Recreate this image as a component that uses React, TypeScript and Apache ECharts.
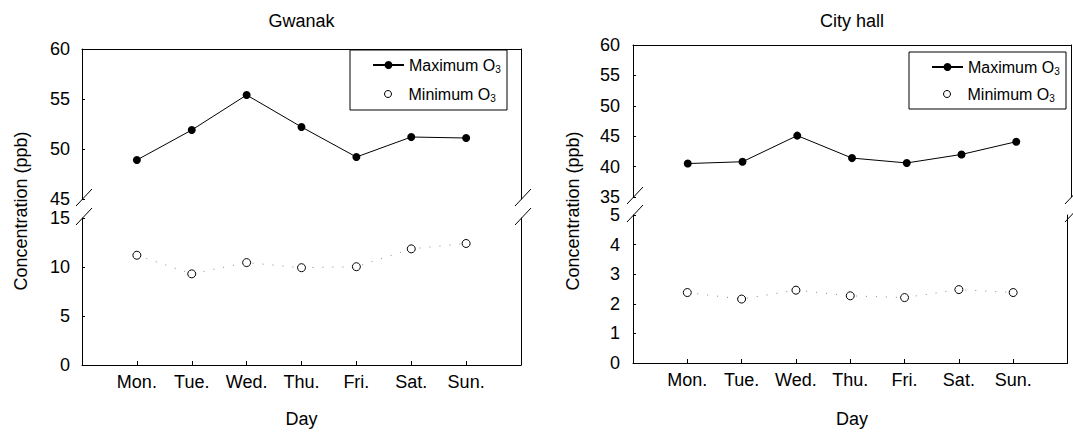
import React, { useEffect, useRef } from "react";
import * as echarts from "echarts";

const days = ["Mon.", "Tue.", "Wed.", "Thu.", "Fri.", "Sat.", "Sun."];
const axisCats = ["", ...days, " "];

const gwanakMax = [48.9, 51.9, 55.4, 52.2, 49.2, 51.2, 51.1];
const gwanakMin = [11.2, 9.3, 10.45, 9.93, 10.03, 11.85, 12.4];
const cityMax = [40.5, 40.8, 45.1, 41.4, 40.6, 42.0, 44.1];
const cityMin = [2.38, 2.16, 2.46, 2.27, 2.21, 2.48, 2.38];

const gwanakTopTicks = { min: 45, max: 60, interval: 5 };
const gwanakBotTicks = { min: 0, max: 15, interval: 5 };
const cityTopTicks = { min: 35, max: 60, interval: 5 };
const cityBotTicks = { min: 0, max: 5, interval: 1 };

const MAX_NAME = "Maximum O3";
const MIN_NAME = "Minimum O3";

const FONT = "'Liberation Sans', Arial, Helvetica, sans-serif";
const FS = 18;

// layout (pixels)
const panels = [
  { left: 82, right: 521, top: 49, brkTop: 199, brkBot: 218, bottom: 365, box: [350, 50, 157, 60], row1: 66, row2: 95, yMargin: 12, nameX: 21 },
  { left: 633, right: 1071, top: 45, brkTop: 197, brkBot: 215, bottom: 363, box: [909, 52, 157, 57], row1: 68, row2: 95, yMargin: 13, nameX: 573 },
];

export default function App() {
  const ref = useRef<HTMLDivElement>(null);
  useEffect(() => {
    if (!ref.current) return;
    const chart = echarts.init(ref.current, undefined, { renderer: "svg" });

    const grids: any[] = [];
    const xAxes: any[] = [];
    const yAxes: any[] = [];
    const series: any[] = [];
    const graphics: any[] = [];
    const legends: any[] = [];

    const black = "#000";
    const defs = [
      { title: "Gwanak", max: gwanakMax, min: gwanakMin, top: gwanakTopTicks, bot: gwanakBotTicks },
      { title: "City hall", max: cityMax, min: cityMin, top: cityTopTicks, bot: cityBotTicks },
    ];

    const legendText = {
      color: black, fontFamily: FONT, fontSize: 16,
      rich: {
        t: { fontSize: 16, fontFamily: FONT, color: black },
        s: { fontSize: 10, fontFamily: FONT, color: black, padding: [9, 0, 0, 0] },
      },
    };
    const fmt = (name: string) => `{t|${name.slice(0, -1)}}{s|${name.slice(-1)}}`;

    defs.forEach((d, p) => {
      const L = panels[p];
      const w = L.right - L.left;
      const gTop = grids.length;
      grids.push({ left: L.left, top: L.top, width: w, height: L.brkTop - L.top, containLabel: false });
      const gBot = grids.length;
      grids.push({ left: L.left, top: L.brkBot, width: w, height: L.bottom - L.brkBot, containLabel: false });

      const xTop = xAxes.length;
      xAxes.push({
        type: "category", gridIndex: gTop, data: axisCats, boundaryGap: false, position: "top",
        axisLine: { show: true, lineStyle: { color: black, width: 1 } },
        axisTick: { show: false }, axisLabel: { show: false }, splitLine: { show: false },
      });
      const xBot = xAxes.length;
      xAxes.push({
        type: "category", gridIndex: gBot, data: axisCats, boundaryGap: false, position: "bottom",
        axisLine: { show: true, lineStyle: { color: black, width: 1 } },
        axisTick: { show: true, inside: true, length: 4, lineStyle: { color: black }, interval: (i: number) => i > 0 && i < axisCats.length - 1 },
        axisLabel: { show: true, interval: 0, color: black, fontSize: FS, fontFamily: FONT, margin: 8 },
        splitLine: { show: false },
      });

      const yCommon = {
        axisLine: { show: true, lineStyle: { color: black } },
        axisTick: { show: true, inside: true, length: 3, lineStyle: { color: black } },
        axisLabel: { color: black, fontSize: FS, fontFamily: FONT, margin: L.yMargin },
        splitLine: { show: false },
      };
      const yRight = {
        axisLine: { show: true, lineStyle: { color: black } },
        axisTick: { show: false }, axisLabel: { show: false }, splitLine: { show: false },
      };
      const yTop = yAxes.length;
      yAxes.push({ type: "value", gridIndex: gTop, position: "left", ...d.top, ...yCommon });
      yAxes.push({ type: "value", gridIndex: gTop, position: "right", ...d.top, ...yRight });
      const yBot = yAxes.length;
      yAxes.push({ type: "value", gridIndex: gBot, position: "left", ...d.bot, ...yCommon });
      yAxes.push({ type: "value", gridIndex: gBot, position: "right", ...d.bot, ...yRight });

      series.push({
        name: MAX_NAME, type: "line", xAxisIndex: xTop, yAxisIndex: yTop,
        data: days.map((day, i) => [day, d.max[i]]),
        symbol: "circle", symbolSize: 8,
        itemStyle: { color: black },
        lineStyle: { color: black, width: 1 },
      });
      series.push({
        name: "min-trend", type: "line", xAxisIndex: xBot, yAxisIndex: yBot,
        data: days.map((day, i) => [day, d.min[i]]),
        symbol: "none", silent: true,
        lineStyle: { color: "#888", width: 1, type: [1, 9] },
      });
      series.push({
        name: MIN_NAME, type: "scatter", xAxisIndex: xBot, yAxisIndex: yBot,
        data: days.map((day, i) => [day, d.min[i]]),
        symbol: "circle", symbolSize: 8,
        itemStyle: { color: "#fff", borderColor: black, borderWidth: 1, opacity: 1 },
        z: 5,
      });

      const [bx, by, bw, bh] = L.box;
      graphics.push({
        type: "rect", shape: { x: bx, y: by, width: bw, height: bh },
        style: { fill: "#fff", stroke: black, lineWidth: 1 }, z: 1,
      });
      legends.push({
        data: [MAX_NAME], orient: "vertical", left: bx + 22, top: L.row1 - 9, padding: 0,
        itemWidth: 31, itemHeight: 10, selectedMode: false, formatter: fmt, textStyle: legendText,
      });
      legends.push({
        data: [{ name: MIN_NAME, itemStyle: { color: "#fff", borderColor: black, borderWidth: 1 } }],
        orient: "vertical", left: bx + 34, top: L.row2 - 9, padding: 0,
        itemWidth: 31, itemHeight: 7, selectedMode: false, formatter: fmt, textStyle: legendText,
      });

      const cx = (L.left + L.right) / 2;
      graphics.push({ type: "text", x: cx, y: 21, style: { text: d.title, font: `${FS}px ${FONT}`, fill: black, textAlign: "center", textVerticalAlign: "middle" } });
      graphics.push({ type: "text", x: cx, y: 419, style: { text: "Day", font: `${FS}px ${FONT}`, fill: black, textAlign: "center", textVerticalAlign: "middle" } });
      graphics.push({
        type: "text", x: L.nameX, y: 211, rotation: Math.PI / 2,
        style: { text: "Concentration (ppb)", font: `${FS}px ${FONT}`, fill: black, textAlign: "center", textVerticalAlign: "middle" },
      });
      [L.left, L.right].forEach((ax) => {
        [L.brkTop, L.brkBot].forEach((yb) => {
          graphics.push({
            type: "line", shape: { x1: ax - 6, y1: yb + 7, x2: ax + 10, y2: yb - 10 },
            style: { stroke: black, lineWidth: 1 },
          });
        });
      });
    });

    chart.setOption({
      animation: false,
      backgroundColor: "#fff",
      grid: grids,
      xAxis: xAxes,
      yAxis: yAxes,
      series,
      legend: legends,
      graphic: graphics,
    });
    return () => chart.dispose();
  }, []);
  return <div ref={ref} style={{ position: "fixed", left: 0, top: 0, width: 1073, height: 434 }} />;
}
